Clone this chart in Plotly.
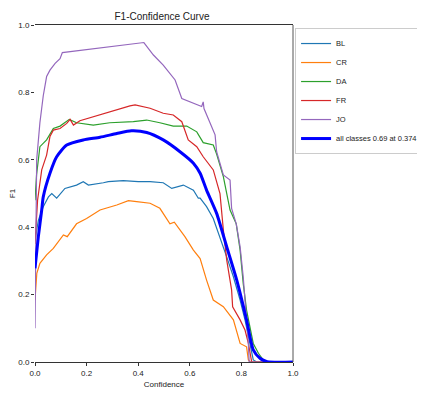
import plotly.graph_objects as go

# ---- data ----
bl_x = [0.0, 0.013, 0.032, 0.052, 0.065, 0.084, 0.116, 0.161, 0.187, 0.207, 0.265, 0.284, 0.342, 0.40, 0.446, 0.497, 0.53, 0.575, 0.614, 0.633, 0.64, 0.665, 0.691, 0.717, 0.743, 0.769, 0.795, 0.814, 0.833, 0.846, 0.86, 1.0]
bl_y = [0.36, 0.42, 0.461, 0.49, 0.50, 0.486, 0.515, 0.525, 0.535, 0.525, 0.532, 0.535, 0.538, 0.535, 0.535, 0.532, 0.515, 0.525, 0.51, 0.486, 0.486, 0.461, 0.426, 0.372, 0.312, 0.253, 0.184, 0.125, 0.055, 0.006, 0.0, 0.0]

cr_x = [0.0, 0.007, 0.019, 0.045, 0.071, 0.11, 0.125, 0.161, 0.2, 0.252, 0.317, 0.362, 0.394, 0.446, 0.484, 0.523, 0.54, 0.581, 0.614, 0.64, 0.665, 0.691, 0.73, 0.769, 0.795, 0.82, 0.827, 0.835, 1.0]
cr_y = [0.184, 0.263, 0.293, 0.318, 0.337, 0.377, 0.372, 0.41, 0.426, 0.451, 0.466, 0.479, 0.476, 0.471, 0.456, 0.41, 0.415, 0.372, 0.332, 0.307, 0.243, 0.184, 0.164, 0.125, 0.055, 0.045, 0.006, 0.0, 0.0]

da_x = [0.0, 0.006, 0.019, 0.045, 0.071, 0.097, 0.133, 0.161, 0.226, 0.29, 0.381, 0.433, 0.484, 0.536, 0.588, 0.627, 0.652, 0.691, 0.704, 0.73, 0.756, 0.78, 0.795, 0.807, 0.82, 0.833, 0.846, 0.866, 0.885, 0.9, 1.0]
da_y = [0.48, 0.555, 0.639, 0.659, 0.693, 0.70, 0.72, 0.71, 0.703, 0.71, 0.713, 0.718, 0.71, 0.70, 0.70, 0.683, 0.651, 0.644, 0.617, 0.55, 0.451, 0.41, 0.332, 0.233, 0.154, 0.105, 0.055, 0.026, 0.006, 0.0, 0.0]

fr_x = [0.0, 0.01, 0.026, 0.045, 0.058, 0.071, 0.097, 0.123, 0.136, 0.149, 0.174, 0.233, 0.317, 0.368, 0.388, 0.446, 0.497, 0.536, 0.569, 0.594, 0.627, 0.652, 0.691, 0.717, 0.73, 0.743, 0.762, 0.766, 0.795, 0.814, 0.827, 0.84, 1.0]
fr_y = [0.35, 0.48, 0.57, 0.614, 0.669, 0.688, 0.693, 0.708, 0.72, 0.703, 0.716, 0.73, 0.748, 0.76, 0.763, 0.753, 0.738, 0.733, 0.713, 0.659, 0.639, 0.609, 0.57, 0.50, 0.392, 0.303, 0.214, 0.164, 0.125, 0.095, 0.055, 0.0, 0.0]

jo_x = [0.0, 0.0065, 0.019, 0.032, 0.045, 0.058, 0.078, 0.097, 0.106, 0.422, 0.459, 0.497, 0.543, 0.569, 0.646, 0.652, 0.655, 0.698, 0.704, 0.73, 0.756, 0.762, 0.78, 0.795, 0.807, 0.818, 0.827, 0.83, 1.0]
jo_y = [0.10, 0.60, 0.71, 0.79, 0.847, 0.866, 0.886, 0.90, 0.918, 0.948, 0.911, 0.881, 0.837, 0.782, 0.758, 0.772, 0.752, 0.674, 0.624, 0.555, 0.54, 0.456, 0.41, 0.342, 0.253, 0.154, 0.055, 0.0, 0.0]

all_x = [0.0, 0.013, 0.026, 0.032, 0.058, 0.084, 0.123, 0.187, 0.252, 0.317, 0.374, 0.433, 0.497, 0.562, 0.614, 0.64, 0.665, 0.704, 0.743, 0.782, 0.82, 0.846, 0.872, 0.9, 1.0]
all_y = [0.278, 0.372, 0.451, 0.49, 0.56, 0.609, 0.644, 0.659, 0.667, 0.678, 0.686, 0.681, 0.659, 0.624, 0.59, 0.56, 0.51, 0.441, 0.342, 0.243, 0.125, 0.036, 0.011, 0.001, 0.0]

series = [
    ("BL", bl_x, bl_y, "#1f77b4"),
    ("CR", cr_x, cr_y, "#ff7f0e"),
    ("DA", da_x, da_y, "#2ca02c"),
    ("FR", fr_x, fr_y, "#d62728"),
    ("JO", jo_x, jo_y, "#9467bd"),
]

fig = go.Figure()
for name, xs, ys, col in series:
    fig.add_trace(go.Scatter(x=xs, y=ys, mode="lines", name=name,
                             line=dict(color=col, width=1.2)))
fig.add_trace(go.Scatter(x=all_x, y=all_y, mode="lines", name="all classes 0.69 at 0.374",
                         line=dict(color="#0000ff", width=3, shape="spline", smoothing=0.6)))

# page body adds an 8px margin, so the figure is 417x387 and placed at (8,8)
W, H = 417, 387
L, T, R, B = 27, 17, 132, 33
font = "Liberation Sans, DejaVu Sans, sans-serif"
fig.update_layout(
    width=W, height=H,
    margin=dict(l=L, r=R, t=T, b=B, autoexpand=False),
    paper_bgcolor="white", plot_bgcolor="white",
    font=dict(family=font, size=8, color="#222"),
    title=dict(text="F1-Confidence Curve", x=154 / W, xanchor="center",
               y=1 - 8 / H, yanchor="middle", font=dict(size=10, color="#222")),
    showlegend=True,
    legend=dict(x=1.008, y=0.991, xanchor="left", yanchor="top",
                bordercolor="#cccccc", borderwidth=1, bgcolor="white",
                font=dict(size=7.5, color="#222"), tracegroupgap=0, itemwidth=30),
)
fig.update_xaxes(range=[0, 1], tickvals=[0, 0.2, 0.4, 0.6, 0.8, 1.0], tickformat=".1f",
                 showgrid=False, zeroline=False, showline=True, mirror=True, automargin=False,
                 linecolor="#333", linewidth=1, ticks="outside", ticklen=3,
                 tickcolor="#333", title=dict(text="Confidence", standoff=4, font=dict(size=8)))
fig.update_yaxes(range=[0, 1], tickvals=[0, 0.2, 0.4, 0.6, 0.8, 1.0], tickformat=".1f",
                 showgrid=False, zeroline=False, showline=False, automargin=False,
                 ticks="outside", ticklen=3, tickcolor="#333",
                 title=dict(text="F1", standoff=2, font=dict(size=8)))
fig.add_shape(type="line", xref="paper", yref="paper", x0=1, x1=1, y0=0, y1=1,
              line=dict(color="#555", width=1))

fig.write_html("out.html")
